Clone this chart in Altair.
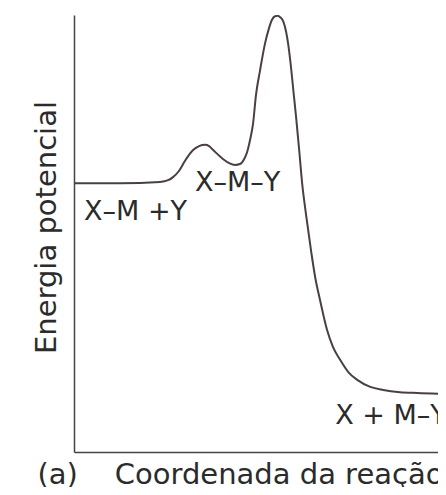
import altair as alt
import pandas as pd

# Reaction coordinate (0-100) and potential energy (0-100)
coord = [0, 12.4, 23.1, 25.3, 26.6, 28.2, 29.8, 32.0, 33.6, 35.2, 36.3, 37.4, 40.1, 41.7,
         43.3, 44.6, 45.7, 46.5, 47.3, 48.1, 48.9, 50.0, 51.3, 52.4, 53.2, 54.0, 54.7,
         55.4, 56.2, 57.0, 57.5, 58.3, 59.0, 59.7, 60.5, 61.3, 62.4, 63.7, 64.8, 66.1,
         68.0, 69.6, 71.5, 73.7, 76.1, 79.6, 83.1, 87.6, 92.2, 100]
energy = [61.5, 61.5, 61.8, 62.2, 62.9, 64.3, 66.6, 69.1, 70.0, 70.3, 70.0, 69.1, 67.0, 66.1,
          65.7, 65.9, 67.0, 68.6, 71.4, 75.1, 81.7, 87.4, 93.4, 97.0, 98.9, 99.7, 99.8,
          99.5, 98.6, 96.1, 93.6, 88.1, 82.2, 76.4, 69.1, 61.5, 54.0, 46.0, 40.0, 34.8,
          27.9, 24.0, 21.1, 18.3, 16.5, 14.9, 14.2, 13.7, 13.5, 13.3]

label_text = ["X\u2013M +Y", "X\u2013M\u2013Y", "X + M\u2013Y"]
label_x = [2.7, 32.5, 70.2]
label_y = [53.0, 59.8, 6.4]

curve = pd.DataFrame({"c": coord, "e": energy})
labels = pd.DataFrame({"t": label_text, "c": label_x, "e": label_y})

FONT = "DejaVu Sans"
TXT = "#2b2b2b"

# the reference picture is cropped on the right: show only part of the coordinate range
xscale = alt.Scale(domain=[0, 97.8], nice=False, zero=False)
yscale = alt.Scale(domain=[0, 100], nice=False, zero=False)

line = alt.Chart(curve).mark_line(
    interpolate="monotone", color="#4a3f46", strokeWidth=2, clip=True
).encode(
    x=alt.X("c:Q", scale=xscale, axis=alt.Axis(
        title="(a)\u00a0\u00a0\u00a0\u00a0Coordenada da rea\u00e7\u00e3o",
        labels=False, ticks=False, grid=False,
        domainColor="#444444", domainWidth=1.5,
        titleFont=FONT, titleFontSize=29, titleFontWeight="normal", titleColor=TXT,
        titleX=-37, titleY=31, titleAlign="left", titleBaseline="alphabetic")),
    y=alt.Y("e:Q", scale=yscale, axis=alt.Axis(
        title="Energia potencial",
        labels=False, ticks=False, grid=False,
        domainColor="#444444", domainWidth=1.5,
        titleFont=FONT, titleFontSize=29, titleFontWeight="normal", titleColor=TXT,
        titleAngle=270, titleX=-19, titleY=212, titleAlign="center",
        titleBaseline="alphabetic")),
)

text = alt.Chart(labels).mark_text(
    align="left", baseline="alphabetic", font=FONT, fontSize=27, color=TXT, clip=True
).encode(
    x=alt.X("c:Q", scale=xscale),
    y=alt.Y("e:Q", scale=yscale),
    text="t:N",
)

chart = (line + text).properties(
    width=364, height=437,
    autosize=alt.AutoSizeParams(type="none"),
    padding={"left": 66, "top": 7, "right": 0, "bottom": 35},
).configure_view(stroke=None)

chart.save("out.html", embed_options={"renderer": "svg", "actions": False})
